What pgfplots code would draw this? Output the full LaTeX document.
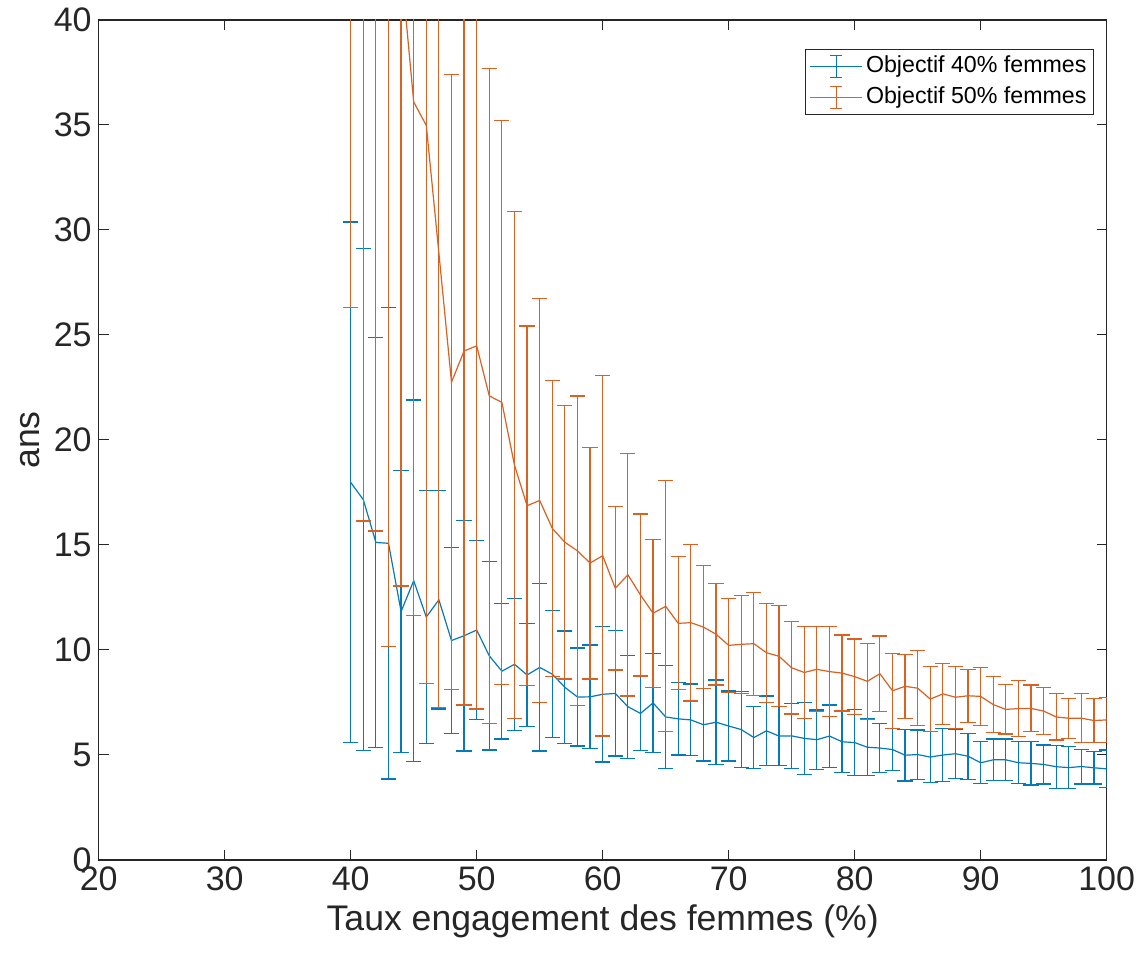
\documentclass[border=0pt]{standalone}
\usepackage{pgfplots}
\usepackage{pgfplotstable}
\pgfplotsset{compat=1.18}
\usepackage{fontspec}
\setmainfont{Liberation Sans}
\definecolor{mblue}{rgb}{0.02,0.48,0.73}
\definecolor{morange}{rgb}{0.85,0.38,0.13}
\definecolor{axgray}{rgb}{0.15,0.15,0.15}

\pgfplotstableread{
x y e
40 17.98 12.40
41 17.16 11.95
42 15.12 9.75
43 15.08 11.22
44 11.83 6.70
45 13.30 8.60
46 11.57 6.03
47 12.39 5.20
48 10.45 4.43
49 10.68 5.49
50 10.95 4.25
51 9.72 4.48
52 8.99 3.23
53 9.32 3.15
54 8.81 2.44
55 9.17 3.98
56 8.85 3.02
57 8.22 2.68
58 7.76 2.33
59 7.77 2.47
60 7.89 3.22
61 7.93 2.98
62 7.30 2.45
63 6.98 1.75
64 7.48 2.36
65 6.81 2.44
66 6.72 1.72
67 6.67 1.71
68 6.44 1.73
69 6.56 2.01
70 6.38 1.67
71 6.21 1.80
72 5.83 1.47
73 6.15 1.66
74 5.90 1.40
75 5.91 1.55
76 5.79 1.71
77 5.73 1.41
78 5.90 1.48
79 5.63 1.48
80 5.59 1.56
81 5.37 1.34
82 5.33 1.17
83 5.26 1.00
84 4.99 1.23
85 5.02 1.17
86 4.90 1.21
87 5.00 1.27
88 5.06 1.17
89 4.94 1.10
90 4.63 1.00
91 4.77 0.99
92 4.77 0.99
93 4.63 1.00
94 4.60 1.03
95 4.55 0.93
96 4.44 1.03
97 4.40 0.99
98 4.45 0.83
99 4.39 0.77
100 4.34 0.90
}\blue

\pgfplotstableread{
x y e
40 45.00 18.70
41 47.00 30.86
42 46.00 30.33
43 44.00 33.84
44 42.60 29.55
45 36.10 24.47
46 34.98 26.57
47 28.90 21.63
48 22.75 14.65
49 24.24 16.86
50 24.48 17.29
51 22.10 15.60
52 21.79 13.43
53 18.80 12.08
54 16.87 8.56
55 17.12 9.62
56 15.79 7.06
57 15.13 6.51
58 14.72 7.37
59 14.14 5.52
60 14.49 8.59
61 12.94 3.89
62 13.58 5.77
63 12.62 3.86
64 11.75 3.52
65 12.08 5.98
66 11.27 3.17
67 11.30 3.73
68 11.09 2.92
69 10.75 2.42
70 10.22 2.24
71 10.27 2.33
72 10.30 2.45
73 9.87 2.36
74 9.70 2.40
75 9.15 2.20
76 8.93 2.18
77 9.08 2.02
78 8.97 2.14
79 8.90 1.81
80 8.73 1.79
81 8.51 1.81
82 8.87 1.80
83 8.06 1.79
84 8.27 1.52
85 8.18 1.79
86 7.66 1.55
87 7.91 1.45
88 7.75 1.48
89 7.82 1.26
90 7.79 1.37
91 7.40 1.33
92 7.17 1.17
93 7.21 1.33
94 7.22 1.11
95 7.09 1.13
96 6.81 1.10
97 6.75 0.95
98 6.75 1.16
99 6.64 1.06
100 6.67 1.08
}\orange

\begin{document}
\begin{tikzpicture}
\useasboundingbox (-49.35pt,-50.5pt) rectangle (521.15pt,430pt);
\begin{axis}[
  at={(0,0)}, anchor=south west,
  width=504pt, height=420pt, scale only axis,
  xmin=20, xmax=100, ymin=0, ymax=40,
  xtick={20,30,...,100}, ytick={0,5,...,40},
  tick align=inside, major tick length=5pt,
  axis line style={axgray, line width=0.6pt},
  every tick/.style={axgray, line width=0.5pt},
  tick label style={font=\fontsize{17}{20}\selectfont, text=axgray},
  label style={font=\fontsize{17.8}{21}\selectfont, text=axgray},
  /pgf/number format/assume math mode=true,
  xlabel={Taux engagement des femmes (\%)},
  ylabel={ans},
  legend style={at={(0.9874,0.9655)}, anchor=north east,
    font=\fontsize{11.6}{14}\selectfont, draw=axgray, line width=0.5pt,
    inner xsep=2pt, inner ysep=1.5pt, row sep=1.3pt,
    nodes={inner sep=1.5pt, text height=8.6pt, text depth=2.6pt}},
  legend cell align=left,
]
\addplot[mblue, line width=0.6pt, mark=none,
  error bars/.cd, y dir=both, y explicit,
  error bar style={line width=0.6pt, mblue},
  error mark options={rotate=90, mark size=3.8pt, line width=0.6pt, mblue},
  /pgfplots/legend image code/.code={
    \draw[mblue, line width=0.6pt] (0pt,0pt) -- (26pt,0pt);
    \draw[mblue, line width=0.6pt] (13pt,-5.5pt) -- (13pt,5.5pt) (10pt,-5.5pt) -- (16pt,-5.5pt) (10pt,5.5pt) -- (16pt,5.5pt);}
] table[x=x, y=y, y error=e] {\blue};
\addlegendentry{Objectif 40\% femmes}
\addplot[morange, line width=0.6pt, mark=none,
  error bars/.cd, y dir=both, y explicit,
  error bar style={line width=0.6pt, morange},
  error mark options={rotate=90, mark size=3.8pt, line width=0.6pt, morange},
  /pgfplots/legend image code/.code={
    \draw[morange, line width=0.6pt] (0pt,0pt) -- (26pt,0pt);
    \draw[morange, line width=0.6pt] (13pt,-5.5pt) -- (13pt,5.5pt) (10pt,-5.5pt) -- (16pt,-5.5pt) (10pt,5.5pt) -- (16pt,5.5pt);}
] table[x=x, y=y, y error=e] {\orange};
\addlegendentry{Objectif 50\% femmes}
\end{axis}
\end{tikzpicture}
\end{document}
